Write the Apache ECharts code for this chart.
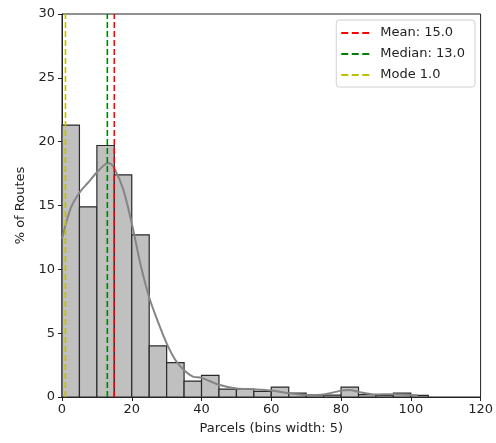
<!DOCTYPE html>
<html>
<head>
<meta charset="utf-8">
<script src="https://cdn.jsdelivr.net/npm/echarts@6/dist/echarts.min.js"></script>
<style>html,body{margin:0;padding:0;background:#fff}#c{width:496px;height:443px}</style>
</head>
<body>
<div id="c"></div>
<script>
// Histogram bins (width 5)
var binStarts = [0,5,10,15,20,25,30,35,40,45,50,55,60,65,70,75,80,85,90,95,100];
var binWidth = 5;
var binHeights = [21.3,14.9,19.7,17.4,12.7,4.0,2.7,1.25,1.7,0.62,0.62,0.44,0.78,0.3,0.15,0.15,0.78,0.18,0.12,0.3,0.12];
// KDE curve
var kdeX = [0,2.5,5,7.5,10,12.5,13.5,15,17.5,20,22.5,25,27.5,30,32.5,35,37.5,40,45,50,55,60,65,70,75,80,82.5,85,90,95,100,102];
var kdeY = [12.4,14.8,16.0,16.8,17.6,18.25,18.3,17.9,16.3,13.6,10.4,7.8,5.9,4.2,2.9,2.1,1.6,1.5,0.96,0.67,0.6,0.5,0.3,0.15,0.2,0.5,0.55,0.4,0.2,0.22,0.15,0.12];
// Statistics
var statNames = ['Mean: 15.0','Median: 13.0','Mode 1.0'];
var statValues = [15.0,13.0,1.0];
var statColors = ['#ff0000','#008000','#bfbf00'];

var chart = echarts.init(document.getElementById('c'));
var barData = binStarts.map(function(s,i){return [s, s+binWidth, binHeights[i]];});
var dashIcon = 'path://M0,0H7V2H0Z M10.5,0H17.5V2H10.5Z M21,0H28V2H21Z';
var series = [{
  type:'custom',
  name:'hist',
  data: barData,
  encode:{x:[0,1], y:2},
  z:1,
  renderItem:function(params, api){
    var p0 = api.coord([api.value(0), api.value(2)]);
    var p1 = api.coord([api.value(1), 0]);
    return {type:'rect', shape:{x:p0[0], y:p0[1], width:p1[0]-p0[0], height:p1[1]-p0[1]},
      style:{fill:'#c0c0c0', stroke:'#2a2a2a', lineWidth:1.2}};
  }
},{
  type:'line', name:'kde', data: kdeX.map(function(x,i){return [x,kdeY[i]];}),
  smooth:0.3, showSymbol:false, symbol:'none', z:3,
  lineStyle:{color:'#858585', width:2}
}];
statNames.forEach(function(n,i){
  series.push({type:'line', name:n, data:[[statValues[i],0],[statValues[i],30]],
    showSymbol:false, symbol:'none', z:4, color:statColors[i],
    lineStyle:{color:statColors[i], width:1.6, type:[6,3]}});
});
chart.setOption({
  animation:false,
  grid:{left:62, right:14, top:14, bottom:46, show:true, borderColor:'#222', borderWidth:1, backgroundColor:'transparent'},
  legend:{
    data: statNames.map(function(n){return {name:n, icon:dashIcon};}),
    orient:'vertical', right:21, top:20,
    itemWidth:28, itemHeight:2, itemGap:7,
    padding:[6,10,5,5], borderColor:'#d0d0d0', borderWidth:1, borderRadius:3, backgroundColor:'#fff',
    textStyle:{fontFamily:'DejaVu Sans', fontSize:13, color:'#222', padding:[0,0,0,6], lineHeight:14}
  },
  xAxis:{type:'value', min:0, max:120, interval:20,
    name:'Parcels (bins width: 5)', nameLocation:'middle', nameGap:25,
    nameTextStyle:{fontFamily:'DejaVu Sans', fontSize:13, color:'#222'},
    axisLine:{show:true, onZero:false, lineStyle:{color:'#222'}},
    axisTick:{show:true, length:4, lineStyle:{color:'#222'}},
    axisLabel:{fontFamily:'DejaVu Sans', fontSize:13, color:'#222', margin:6},
    splitLine:{show:false}},
  yAxis:{type:'value', min:0, max:30, interval:5,
    name:'% of Routes', nameLocation:'middle', nameGap:34,
    nameTextStyle:{fontFamily:'DejaVu Sans', fontSize:13, color:'#222'},
    axisLine:{show:true, lineStyle:{color:'#222'}},
    axisTick:{show:true, length:4, lineStyle:{color:'#222'}},
    axisLabel:{fontFamily:'DejaVu Sans', fontSize:13, color:'#222', margin:7},
    splitLine:{show:false}},
  series: series
});
</script>
</body>
</html>
